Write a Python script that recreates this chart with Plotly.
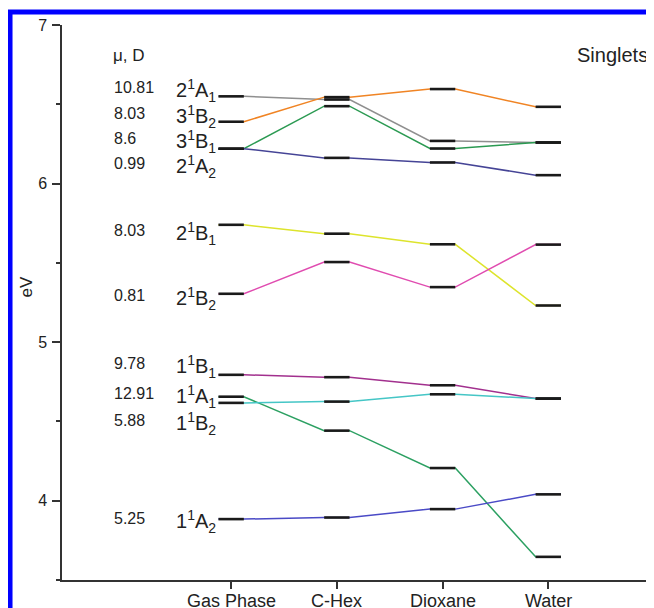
import plotly.graph_objects as go

# ---- data ----
solvents = ["Gas Phase", "C-Hex", "Dioxane", "Water"]
state_num = ["2", "3", "3", "2", "2", "2", "1", "1", "1", "1"]
state_sym = ["A", "B", "B", "A", "B", "B", "B", "A", "B", "A"]
state_sub = ["1", "2", "1", "2", "1", "2", "1", "1", "2", "2"]
dipoles = ["10.81", "8.03", "8.6", "0.99", "8.03", "0.81", "9.78", "12.91", "5.88", "5.25"]
gas = [6.55, 6.39, 6.22, 6.22, 5.74, 5.305, 4.794, 4.656, 4.617, 3.884]
chex = [6.53, 6.545, 6.488, 6.162, 5.684, 5.505, 4.779, 4.442, 4.625, 3.894]
dioxane = [6.269, 6.596, 6.221, 6.133, 5.617, 5.347, 4.728, 4.206, 4.671, 3.947]
water = [6.259, 6.484, 6.259, 6.053, 5.231, 5.615, 4.644, 3.646, 4.644, 4.04]
colors = ["#8f8f8f", "#f08424", "#2b9a52", "#454496", "#dde42c",
          "#e04cb0", "#a2308e", "#2ca062", "#45c6c6", "#4a4ac6"]
label_y = [6.603, 6.445, 6.287, 6.129, 5.707, 5.297, 4.868, 4.678, 4.508, 3.89]

HW = 0.12  # half width of level bars (x units)
FONT = "Arial, Liberation Sans, sans-serif"

fig = go.Figure()
levels = list(zip(gas, chex, dioxane, water))
bx, by = [], []
for i, vals in enumerate(levels):
    xs, ys = [], []
    for j, v in enumerate(vals):
        xc = j + 1
        xs += [xc - HW, xc + HW]
        ys += [v, v]
        bx += [xc - HW, xc + HW, None]
        by += [v, v, None]
    fig.add_trace(go.Scatter(x=xs, y=ys, mode="lines",
                             line=dict(color=colors[i], width=1.5),
                             hoverinfo="skip", showlegend=False))
fig.add_trace(go.Scatter(x=bx, y=by, mode="lines",
                         line=dict(color="#1a1a1a", width=2.6),
                         hoverinfo="skip", showlegend=False))

ann = []
for i in range(len(dipoles)):
    ann.append(dict(x=-0.13, y=label_y[i], xref="x", yref="y",
                    text=dipoles[i], showarrow=False, xanchor="left",
                    yanchor="middle", font=dict(size=16, color="#222", family=FONT)))
    ann.append(dict(x=0.88, y=label_y[i], xref="x", yref="y",
                    text=f"{state_num[i]}<sup>1</sup>{state_sym[i]}<sub>{state_sub[i]}</sub>",
                    showarrow=False, xanchor="right", yanchor="middle", yshift=-3,
                    font=dict(size=20, color="#222", family=FONT)))
# category labels under the x axis (placed as annotations for exact position)
for j, name in enumerate(solvents):
    ann.append(dict(x=j + 1, y=0, xref="x", yref="paper", text=name,
                    showarrow=False, xanchor="center", yanchor="top", yshift=-9,
                    font=dict(size=18, color="#222", family=FONT)))
ann.append(dict(x=-0.135, y=6.81, xref="x", yref="y", text="\u03bc, D",
                showarrow=False, xanchor="left", yanchor="middle",
                font=dict(size=17, color="#222", family=FONT)))
ann.append(dict(x=4.25, y=6.81, xref="x", yref="y", text="Singlets",
                showarrow=False, xanchor="left", yanchor="middle",
                font=dict(size=20, color="#222", family=FONT)))
ann.append(dict(x=-0.06, y=0.528, xref="paper", yref="paper", text="eV",
                textangle=-90, showarrow=False, xanchor="center", yanchor="middle",
                font=dict(size=17, color="#222", family=FONT)))

# page body adds an 8px offset, so the figure is drawn 8px smaller and shifted
fig.update_layout(
    width=646, height=600,
    margin=dict(l=54, r=0, t=17, b=28, autoexpand=False),
    paper_bgcolor="white", plot_bgcolor="white",
    annotations=ann,
    shapes=[dict(type="rect", xref="paper", yref="paper",
                 x0=-0.0878, x1=1.2, y0=-0.3, y1=1.0234,
                 line=dict(color="#0000ff", width=5), fillcolor="rgba(0,0,0,0)"),
            dict(type="line", xref="paper", yref="paper",
                 x0=-0.009, x1=0, y0=0, y1=0,
                 line=dict(color="#333", width=1.5))],
)
fig.update_xaxes(range=[-0.6, 5.0], tickvals=[1, 2, 3, 4, 5],
                 showticklabels=False, showgrid=False, zeroline=False,
                 showline=True, linecolor="#333", linewidth=1.5, automargin=False,
                 ticks="outside", ticklen=7, tickcolor="#333", tickwidth=1.5)
fig.update_yaxes(range=[3.5, 7.0], tickvals=[4, 5, 6, 7], showgrid=False,
                 zeroline=False, showline=True, linecolor="#333", linewidth=1.5,
                 automargin=False,
                 ticks="outside", ticklen=8, tickcolor="#333", tickwidth=1.5,
                 ticklabelstandoff=2,
                 minor=dict(dtick=0.5, ticks="outside", ticklen=4, tickcolor="#333"),
                 tickfont=dict(size=16, color="#222", family=FONT))

fig.write_html("out.html")
